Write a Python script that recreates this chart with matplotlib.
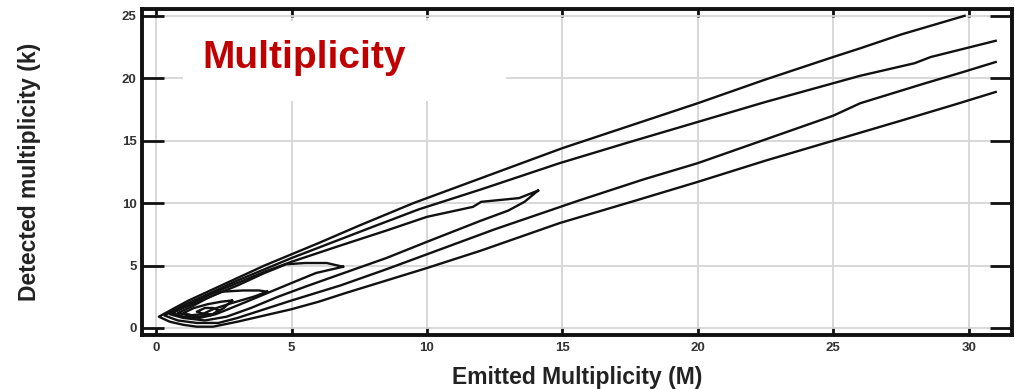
import matplotlib.pyplot as plt
import numpy as np

plt.rcParams['font.family'] = ['Liberation Sans', 'DejaVu Sans']

# Contour traces of detected (k) vs emitted (M) multiplicity.
# Each level is stored as its upper and lower edge; both start at the
# same point near the origin. Closed levels also meet at their right tip.
lvl1_upper_m = [0.1, 0.6, 1.2, 2.0, 3.0, 4.0, 5.0, 6.0, 7.5, 9.5, 12.0, 15.0, 17.5, 20.0, 22.5, 25.0, 26.0, 27.5, 29.85]
lvl1_upper_k = [0.9, 1.5, 2.2, 3.0, 4.0, 5.0, 5.9, 6.8, 8.2, 10.0, 12.0, 14.4, 16.2, 18.0, 19.9, 21.7, 22.4, 23.5, 25.0]
lvl1_lower_m = [0.1, 0.5, 1.0, 1.5, 2.1, 3.0, 4.0, 5.0, 6.0, 7.0, 8.5, 10.0, 12.0, 14.9, 17.7, 20.0, 22.5, 25.0, 27.5, 29.5, 31.0]
lvl1_lower_k = [0.9, 0.5, 0.25, 0.1, 0.1, 0.5, 1.0, 1.5, 2.1, 2.8, 3.8, 4.8, 6.2, 8.4, 10.2, 11.7, 13.4, 15.0, 16.6, 17.9, 18.9]

lvl2_upper_m = [0.3, 1.0, 2.0, 3.0, 4.0, 5.0, 6.8, 8.0, 9.7, 12.0, 14.9, 17.5, 20.0, 22.5, 25.0, 26.0, 28.0, 28.6, 31.0]
lvl2_upper_k = [1.0, 1.8, 2.8, 3.8, 4.7, 5.6, 7.1, 8.1, 9.5, 11.1, 13.2, 14.9, 16.5, 18.1, 19.6, 20.2, 21.2, 21.7, 23.0]
lvl2_lower_m = [0.3, 0.8, 1.5, 2.3, 3.0, 4.0, 5.0, 6.8, 8.5, 10.0, 12.5, 15.6, 18.0, 20.0, 22.5, 25.0, 25.6, 26.0, 28.4, 29.8, 31.0]
lvl2_lower_k = [1.0, 0.6, 0.4, 0.4, 0.8, 1.5, 2.2, 3.4, 4.7, 5.9, 7.9, 10.2, 11.9, 13.2, 15.1, 17.0, 17.6, 18.0, 19.6, 20.5, 21.3]

lvl3_upper_m = [0.5, 1.0, 2.0, 3.0, 4.0, 5.0, 6.8, 8.5, 10.0, 11.7, 12.0, 13.4, 14.1]
lvl3_upper_k = [1.1, 1.7, 2.7, 3.6, 4.5, 5.3, 6.6, 7.8, 8.9, 9.7, 10.1, 10.4, 11.0]
lvl3_lower_m = [0.5, 1.0, 1.8, 2.6, 3.5, 4.5, 5.5, 6.8, 8.5, 10.0, 12.0, 13.0, 13.6, 14.1]
lvl3_lower_k = [1.1, 0.8, 0.6, 0.9, 1.6, 2.5, 3.3, 4.3, 5.6, 6.9, 8.6, 9.4, 10.1, 11.0]

lvl4_upper_m = [0.6, 1.0, 2.0, 3.0, 4.0, 4.8, 5.5, 6.3, 6.9]
lvl4_upper_k = [1.2, 1.6, 2.5, 3.4, 4.4, 5.1, 5.2, 5.2, 4.9]
lvl4_lower_m = [0.6, 1.0, 1.6, 2.2, 3.0, 4.0, 5.0, 5.9, 6.9]
lvl4_lower_k = [1.2, 0.9, 0.8, 1.1, 1.8, 2.7, 3.6, 4.4, 4.9]

lvl5_upper_m = [0.8, 1.3, 1.9, 2.4, 3.2, 3.8, 4.1]
lvl5_upper_k = [1.2, 1.7, 2.4, 2.9, 3.0, 3.0, 2.9]
lvl5_lower_m = [0.8, 1.2, 1.7, 2.1, 2.8, 3.6, 4.1]
lvl5_lower_k = [1.2, 1.0, 1.1, 1.5, 2.0, 2.5, 2.9]

lvl6_upper_m = [1.0, 1.4, 1.9, 2.4, 2.8]
lvl6_upper_k = [1.2, 1.6, 1.9, 2.1, 2.2]
lvl6_lower_m = [1.0, 1.5, 2.0, 2.5, 2.8]
lvl6_lower_k = [1.2, 0.9, 1.0, 1.6, 2.2]

lvl7_upper_m = [1.5, 1.8, 2.1, 2.3]
lvl7_upper_k = [1.3, 1.6, 1.6, 1.4]
lvl7_lower_m = [1.5, 1.8, 2.1, 2.3]
lvl7_lower_k = [1.3, 1.1, 1.1, 1.4]

levels = [
    (lvl1_upper_m, lvl1_upper_k, lvl1_lower_m, lvl1_lower_k),
    (lvl2_upper_m, lvl2_upper_k, lvl2_lower_m, lvl2_lower_k),
    (lvl3_upper_m, lvl3_upper_k, lvl3_lower_m, lvl3_lower_k),
    (lvl4_upper_m, lvl4_upper_k, lvl4_lower_m, lvl4_lower_k),
    (lvl5_upper_m, lvl5_upper_k, lvl5_lower_m, lvl5_lower_k),
    (lvl6_upper_m, lvl6_upper_k, lvl6_lower_m, lvl6_lower_k),
    (lvl7_upper_m, lvl7_upper_k, lvl7_lower_m, lvl7_lower_k),
]

x_ticks = [0, 5, 10, 15, 20, 25, 30]
y_ticks = [0, 5, 10, 15, 20, 25]

fig = plt.figure(figsize=(10.15, 3.89), dpi=100)
ax = fig.add_axes([0.140, 0.139, 0.857, 0.838])

for up_m, up_k, lo_m, lo_k in levels:
    m = np.concatenate([np.array(lo_m)[::-1], up_m])
    k = np.concatenate([np.array(lo_k)[::-1], up_k])
    ax.plot(m, k, color='#111111', lw=1.7, solid_joinstyle='round', zorder=3)

ax.set_xlim(-0.52, 31.6)
ax.set_ylim(-0.56, 25.55)
ax.set_xticks(x_ticks)
ax.set_yticks(y_ticks)
ax.grid(True, color='#d6d6d6', lw=1.3, zorder=0)

for side in ['left', 'right', 'top', 'bottom']:
    ax.spines[side].set_linewidth(2.8)
    ax.spines[side].set_color('#111111')

ax.tick_params(axis='y', which='both', direction='in', length=16, width=2,
               left=True, right=True, labelsize=9.5, pad=4, colors='#111111')
ax.tick_params(axis='x', which='both', direction='in', length=6, width=2,
               bottom=True, top=True, labelsize=9.5, pad=5, colors='#111111')
for lab in ax.get_xticklabels() + ax.get_yticklabels():
    lab.set_fontweight('bold')
    lab.set_color('#333333')

ax.set_xlabel('Emitted Multiplicity (M)', fontsize=16.5, fontweight='bold',
              color='#222222', labelpad=9)
ax.set_ylabel('Detected multiplicity (k)', fontsize=16.5, fontweight='bold',
              color='#222222', labelpad=58)

# white panel behind the heading so the grid does not run through it
ax.add_patch(plt.Rectangle((1.0, 18.2), 11.9, 6.4, facecolor='white',
                           edgecolor='none', zorder=2))
ax.text(1.7, 20.8, 'Multiplicity', color='#c00000', fontsize=28,
        fontweight='bold', ha='left', va='baseline', zorder=4)

fig.savefig('out.png', dpi=100)
plt.close(fig)
